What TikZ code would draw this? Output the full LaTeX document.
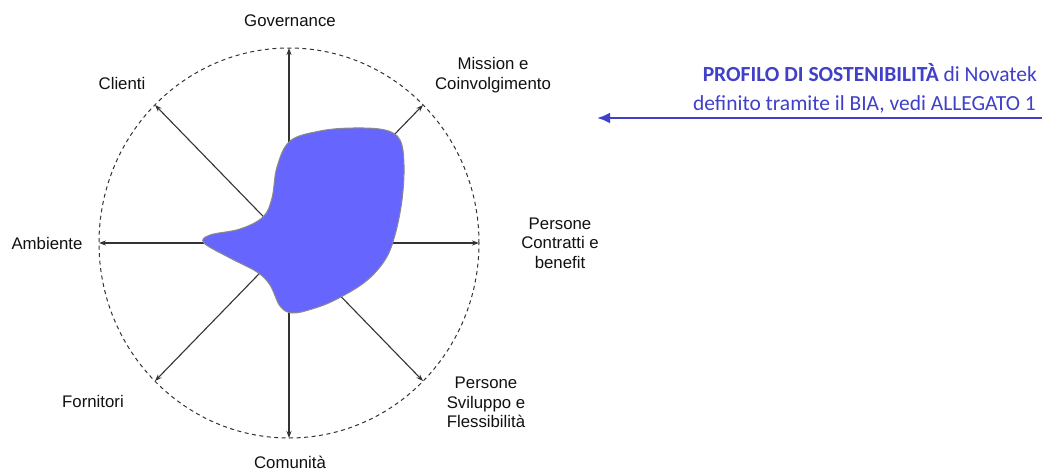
\documentclass[tikz,border=0pt]{standalone}
\usepackage{fontspec}
\setmainfont{Liberation Sans}
\newfontfamily\calfont{Carlito}
\usetikzlibrary{arrows.meta}
\definecolor{axisgray}{HTML}{333333}
\definecolor{blobfill}{HTML}{6666FF}
\definecolor{blobline}{HTML}{8A8A8A}
\definecolor{noteblue}{HTML}{4040C8}
\definecolor{labelink}{HTML}{111111}
\tikzset{
  axisarrow/.style={draw=axisgray, line width=1.1pt, -{Stealth[length=7pt,width=5pt]}},
  lbl/.style={text=labelink, font=\fontsize{16.8}{19.5}\selectfont, align=center, inner sep=0pt},
  note/.style={text=noteblue, font=\calfont\fontsize{21.5}{29}\selectfont, inner sep=0pt},
  notearrow/.style={draw=noteblue, line width=2.6pt, -{Latex[length=13pt,width=11pt]}},
}
\begin{document}
\begin{tikzpicture}[x=1pt,y=-1pt]
\useasboundingbox (0,0) rectangle (1042,472);
\fill[white] (0,0) rectangle (1042,472);
\coordinate (c) at (289,243);
\coordinate (tN) at (289,48);
\coordinate (tS) at (289,438);
\coordinate (tW) at (99,243);
\coordinate (tE) at (479,243);
\coordinate (tNW) at (155,105);
\coordinate (tNE) at (423,105);
\coordinate (tSW) at (155,381);
\coordinate (tSE) at (423,381);
\draw[axisgray, line width=1pt, dash pattern=on 4pt off 3.5pt] (c) ellipse [x radius=190pt, y radius=195pt];
\foreach \t in {tN,tS,tW,tE,tNW,tNE,tSW,tSE} \draw[axisarrow] (c) -- (\t);
\draw[fill=blobfill, draw=blobline, line width=1pt] plot[smooth cycle, tension=0.6] coordinates {
 (290,141) (320,131) (353,128) (385,130) (400,140) (404,165) (402,200) (395,235)
 (385,260) (365,282) (335,300) (312,309) (292,313) (280,306) (270,285) (257,272)
 (230,258) (204,243) (210,235) (240,229) (263,217) (272,198) (277,167)};
\node[lbl] (gov) at (290,21) {Governance};
\node[lbl] (mis) at (493,75) {Mission e\\Coinvolgimento};
\node[lbl] (pcb) at (560,243) {Persone\\Contratti e\\benefit};
\node[lbl] (psf) at (486,402.5) {Persone\\Sviluppo e\\Flessibilità};
\node[lbl] (com) at (290,462) {Comunità};
\node[lbl] (for) at (93,401) {Fornitori};
\node[lbl] (amb) at (47,243) {Ambiente};
\node[lbl] (cli) at (122,83) {Clienti};
\node[note, anchor=base east] (prof1) at (1037,81) {\textbf{PROFILO DI SOSTENIBILITÀ} di Novatek};
\node[note, anchor=base east] (prof2) at (1036,110) {definito tramite il BIA, vedi ALLEGATO 1};
\coordinate (as) at (1042,118);
\coordinate (ae) at (597,118);
\draw[notearrow] (as) -- (ae);
\end{tikzpicture}
\end{document}
